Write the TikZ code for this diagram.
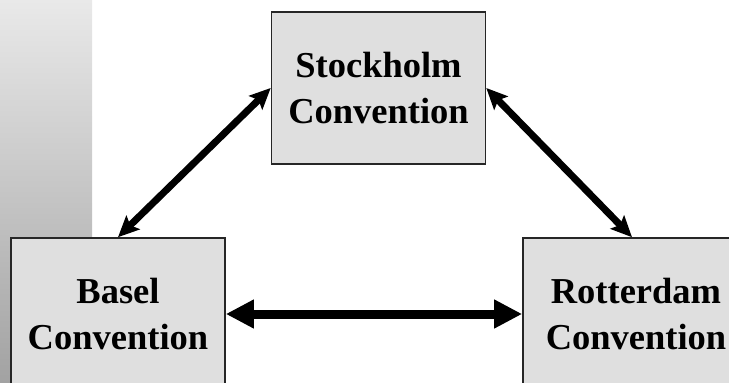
\documentclass[tikz,border=0pt]{standalone}
\usepackage{fontspec}
\setmainfont{Liberation Serif}
\usetikzlibrary{arrows.meta}
\definecolor{boxfill}{HTML}{DFDFDF}
\definecolor{bartop}{HTML}{E9E9E9}
\definecolor{barbottom}{HTML}{A2A2A2}
\begin{document}
\begin{tikzpicture}[x=1pt,y=-1pt,
  conv/.style={draw=black!85, line width=1.6pt, fill=boxfill, align=center,
    inner sep=0pt, minimum width=214pt, minimum height=152pt,
    font=\fontsize{36.5}{46}\selectfont\bfseries},
  diaglink/.style={line width=7pt, {Stealth[length=21pt,width=19pt,inset=4pt]}-{Stealth[length=21pt,width=19pt,inset=4pt]}},
  flatlink/.style={line width=9pt, {Triangle[length=28pt,width=27pt]}-{Triangle[length=28pt,width=27pt]}}]
  \useasboundingbox (0,0) rectangle (729,383);
  \clip (0,0) rectangle (729,383);
  % side band
  \shade[top color=bartop, bottom color=barbottom] (0,0) rectangle (92,383);
  % the three conventions
  \node[conv] (stock) at (378.5,88) {Stockholm\\Convention};
  \node[conv] (basel) at (118,314) {Basel\\Convention};
  \node[conv, minimum width=226pt] (rott) at (636,314) {Rotterdam\\Convention};
  % links between them
  \draw[diaglink] (stock.west) -- (basel.north);
  \draw[diaglink] (stock.east) -- ([xshift=-4pt]rott.north);
  \draw[flatlink] (basel.east) -- (rott.west);
\end{tikzpicture}
\end{document}
